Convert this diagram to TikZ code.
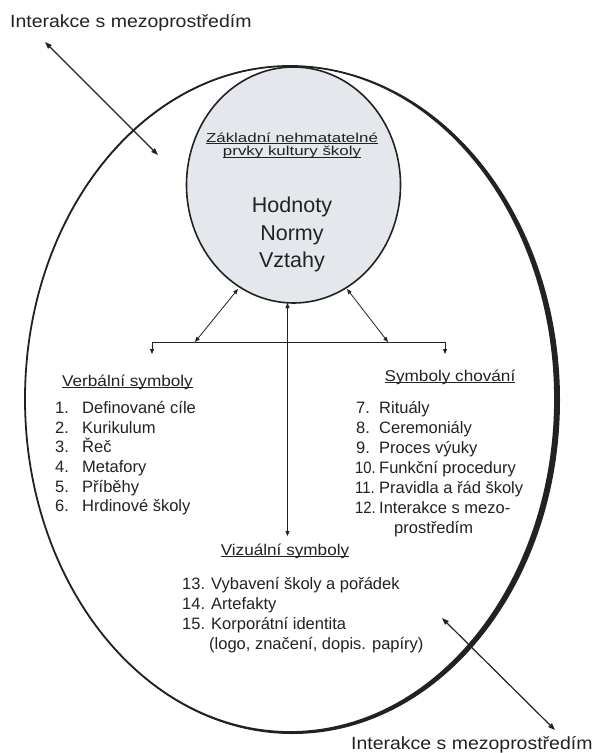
\documentclass[tikz,border=0pt]{standalone}
\usepackage{fontspec}
\setmainfont{Liberation Sans}
\newfontfamily\lblfont[FakeStretch=1.1]{Liberation Sans}
\newfontfamily\subfont[FakeStretch=1.3]{Liberation Sans}
\newfontfamily\numfont[FakeStretch=0.9]{Liberation Sans}
\usetikzlibrary{arrows.meta,shapes.geometric}
\definecolor{ink}{RGB}{34,34,34}
\definecolor{corefill}{RGB}{228,231,236}
\newcommand\ulx[1]{\setbox0\hbox{#1}\rlap{\rule[-2pt]{\wd0}{0.7pt}}\box0}
\begin{document}
\begin{tikzpicture}[x=1pt,y=-1pt,
  every node/.style={inner sep=0pt, text=ink},
  arr/.style={draw=ink, line width=0.8pt, {Triangle[length=5pt,width=4pt]}-{Triangle[length=5pt,width=4pt]}},
  tipline/.style={draw=ink, line width=0.8pt, -{Triangle[length=5pt,width=4pt]}},
  bigarr/.style={draw=ink, line width=1.2pt, {Triangle[length=7pt,width=5pt]}-{Triangle[length=7pt,width=5pt]}},
  lbl/.style={font=\lblfont\fontsize{17.7}{20}\selectfont, anchor=base west},
  head/.style={font=\lblfont\fontsize{15.6}{18}\selectfont, anchor=base},
  sub/.style={font=\subfont\fontsize{13}{15}\selectfont, anchor=base},
  big/.style={font=\fontsize{21.5}{24}\selectfont, anchor=base},
  item/.style={font=\fontsize{16.5}{19}\selectfont, anchor=base west},
  num/.style={font=\numfont\fontsize{16.5}{19}\selectfont, anchor=base west},
]
\useasboundingbox (0,0) rectangle (595,753);
\fill[white] (0,0) rectangle (595,753);

% outer ellipse with heavier right side
\fill[ink, even odd rule] (290,399) ellipse [x radius=265, y radius=333]
  (292.5,400) ellipse [x radius=267.5, y radius=334];
\draw[ink, line width=1.8pt] (290,399) ellipse [x radius=265, y radius=333];

% core ellipse
\node[ellipse, draw=ink, fill=corefill, line width=1.6pt,
      minimum width=214pt, minimum height=236pt] (core) at (293.5,185) {};

\node[sub] (sub1) at (292,142) {\ulx{Základní nehmatatelné}};
\node[sub] (sub2) at (292,155.5) {\ulx{prvky kultury školy}};
\node[big] (hod) at (292,212) {Hodnoty};
\node[big] (nor) at (292,240) {Normy};
\node[big] (vzt) at (292,267) {Vztahy};

% connectors
\coordinate (cl) at (238,289);
\coordinate (cr) at (347,289);
\coordinate (cb) at (287.5,303);
\coordinate (bl) at (195,342);
\coordinate (br) at (388,342);
\coordinate (barL) at (152,342);
\coordinate (barR) at (445,342);
\coordinate (tickL) at (152,354);
\coordinate (tickR) at (445,354);
\coordinate (vb) at (287.5,536);

\draw[ink, line width=0.8pt] (barL) -- (barR);
\draw[tipline] (barL) -- (tickL);
\draw[tipline] (barR) -- (tickR);
\draw[arr] (bl) -- (cl);
\draw[arr] (br) -- (cr);
\draw[arr] (cb) -- (vb);

\coordinate (tl1) at (45,42);
\coordinate (tl2) at (158,155);
\coordinate (br1) at (442,618);
\coordinate (br2) at (555,730);
\draw[bigarr] (tl1) -- (tl2);
\draw[bigarr] (br1) -- (br2);

% labels
\node[lbl] (labtop) at (10,27) {Interakce s mezoprostředím};
\node[lbl] (labbot) at (351,749) {Interakce s mezoprostředím};

% headings
\node[head] (hv) at (127.5,386) {\ulx{Verbální symboly}};
\node[head] (hc) at (450,381) {\ulx{Symboly chování}};
\node[head] (hz) at (285,555) {\ulx{Vizuální symboly}};

% verbal list
\foreach \n/\t [count=\i from 0] in {1/Definované cíle, 2/Kurikulum, 3/Řeč, 4/Metafory, 5/Příběhy, 6/Hrdinové školy} {
  \node[item] (vn\n) at (55, 413.3+19.7*\i) {\n.};
  \node[item] (vt\n) at (82, 413.3+19.7*\i) {\t};
}

% behaviour list
\foreach \n/\t [count=\i from 0] in {7/Rituály, 8/Ceremoniály, 9/Proces výuky} {
  \node[item] (cn\n) at (356, 413.3+20.1*\i) {\n.};
  \node[item] (ct\n) at (379, 413.3+20.1*\i) {\t};
}
\foreach \n/\t [count=\i from 3] in {10/Funkční procedury, 11/Pravidla a řád školy, 12/Interakce s mezo-} {
  \node[num] (cn\n) at (355, 413.3+20.1*\i) {\n.};
  \node[item] (ct\n) at (379, 413.3+20.1*\i) {\t};
}
\node[item] (c12b) at (394, 533.5) {prostředím};

% visual list
\node[item] (z13) at (182, 589) {13. Vybavení školy a pořádek};
\node[item] (z14) at (182, 609) {14. Artefakty};
\node[item] (z15) at (182, 629) {15. Korporátní identita};
\node[item] (z15b) at (209, 649) {(logo, značení, dopis. papíry)};
\end{tikzpicture}
\end{document}
